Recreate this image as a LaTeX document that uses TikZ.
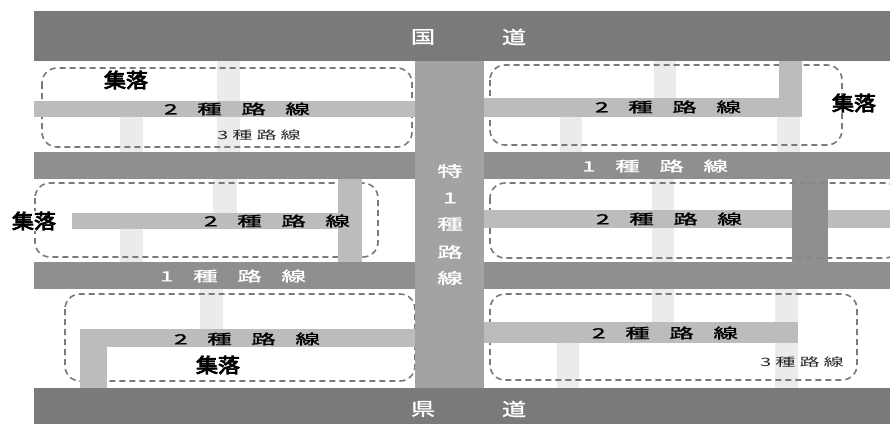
\documentclass[tikz,border=0pt]{standalone}
\usepackage{fontspec}
\newfontfamily\jp{Noto Sans CJK JP}
\newfontfamily\jpm[FakeBold=1.2]{Noto Sans CJK JP}
\newfontfamily\jpb[FakeBold=4]{Noto Sans CJK JP}
\definecolor{natroad}{HTML}{7A7A7A}
\definecolor{roadone}{HTML}{8F8F8F}
\definecolor{roadsp}{HTML}{A3A3A3}
\definecolor{roadtwo}{HTML}{BCBCBC}
\definecolor{roadthree}{HTML}{EBEBEB}
\definecolor{dashc}{HTML}{7A7A7A}
\newcommand\lblfont[2]{\scalebox{#1}[1]{#2}}
\newcommand\twoline{\lblfont{1.75}{\jpm\fontsize{14}{14}\selectfont 2\hspace{0.8em}種\hspace{0.8em}路\hspace{0.8em}線}}
\newcommand\oneline{\lblfont{1.75}{\jpm\fontsize{14}{14}\selectfont 1\hspace{0.8em}種\hspace{0.8em}路\hspace{0.8em}線}}
\newcommand\threeline{\lblfont{1.75}{\jp\fontsize{11.5}{11.5}\selectfont 3\hspace{0.2em}種\hspace{0.2em}路\hspace{0.2em}線}}
\newcommand\village{\lblfont{1.1}{\jpb\fontsize{20}{20}\selectfont 集落}}
\newcommand\natchar[1]{\lblfont{1.35}{\jpm\fontsize{18}{18}\selectfont #1}}
\newcommand\spchar[1]{\lblfont{1.7}{\jpm\fontsize{15}{15}\selectfont #1}}
\begin{document}
\begin{tikzpicture}[x=1pt,y=-1pt,
  rthree/.style={fill=roadthree},
  rtwo/.style={fill=roadtwo},
  rone/.style={fill=roadone},
  rsp/.style={fill=roadsp},
  rnat/.style={fill=natroad},
  vbox/.style={draw=dashc, line width=1.6pt, dash pattern=on 6pt off 4pt, rounded corners=15pt},
  lbl/.style={inner sep=0pt, text=black},
  wlbl/.style={inner sep=0pt, text=white},
  vlbl/.style={inner sep=1pt, text=black},
]
\useasboundingbox (0,0) rectangle (890,424);
\fill[white] (0,0) rectangle (890,424);
% 3rd class roads
\fill[rthree] (217,61) rectangle (240,152);
\fill[rthree] (120,117) rectangle (143,152);
\fill[rthree] (654,61) rectangle (676,98);
\fill[rthree] (560,117) rectangle (582,152);
\fill[rthree] (777,117) rectangle (800,152);
\fill[rthree] (213,179) rectangle (237,213);
\fill[rthree] (120,229) rectangle (143,262);
\fill[rthree] (652,179) rectangle (674,262);
\fill[rthree] (200,289) rectangle (223,329);
\fill[rthree] (652,289) rectangle (674,322);
\fill[rthree] (557,343) rectangle (579,388);
\fill[rthree] (775,289) rectangle (798,388);
% village outlines
\draw[vbox] (42,68) rectangle (412,147);
\draw[vbox] (490,65) rectangle (842,145);
\draw[vbox] (35,183) rectangle (378,257);
\draw[vbox] (490,183) rectangle (900,258);
\draw[vbox] (65,294) rectangle (415,381);
\draw[vbox] (490,294) rectangle (857,380);
% 2nd class roads
\fill[rtwo] (34,101) rectangle (415,117);
\fill[rtwo] (484,98) rectangle (802,117);
\fill[rtwo] (779,61) rectangle (802,117);
\fill[rtwo] (72,213) rectangle (362,229);
\fill[rtwo] (338,179) rectangle (362,262);
\fill[rtwo] (484,210) rectangle (890,228);
\fill[rtwo] (80,329) rectangle (415,347);
\fill[rtwo] (80,329) rectangle (107,388);
\fill[rtwo] (484,322) rectangle (798,343);
% 1st class roads
\fill[rone] (34,152) rectangle (890,179);
\fill[rone] (34,262) rectangle (890,289);
\fill[rone] (792,179) rectangle (828,262);
\begin{scope}
\clip (792,179) rectangle (828,262);
\draw[vbox, opacity=0.35] (490,183) rectangle (900,258);
\end{scope}
% special 1st class road
\fill[rsp] (415,61) rectangle (484,388);
% national / prefectural roads
\fill[rnat] (34,11) rectangle (890,61);
\fill[rnat] (34,388) rectangle (890,424);
% labels
\node[wlbl] (n1) at (423,37) {\natchar{国}};
\node[wlbl] (n2) at (514,37) {\natchar{道}};
\node[wlbl] (p1) at (423,409) {\natchar{県}};
\node[wlbl] (p2) at (514,409) {\natchar{道}};
\node[wlbl] (s1) at (450,171) {\spchar{特}};
\node[wlbl] (s2) at (450,198) {\spchar{1}};
\node[wlbl] (s3) at (450,224) {\spchar{種}};
\node[wlbl] (s4) at (450,252) {\spchar{路}};
\node[wlbl] (s5) at (450,278) {\spchar{線}};
\node[wlbl] (o1) at (655,166) {\oneline};
\node[wlbl] (o2) at (233,276) {\oneline};
\node[lbl] (t1) at (237,109) {\twoline};
\node[lbl] (t2) at (668,107) {\twoline};
\node[lbl] (t3) at (277,221) {\twoline};
\node[lbl] (t4) at (669,219) {\twoline};
\node[lbl] (t5) at (247,339) {\twoline};
\node[lbl] (t6) at (665,333) {\twoline};
\node[lbl, text=black!85] (h1) at (259,135) {\threeline};
\node[lbl, text=black!85] (h2) at (802,362) {\threeline};
\node[vlbl] (v1) at (126,80) {\village};
\node[vlbl] (v2) at (854,103) {\village};
\node[vlbl, fill=white] (v3) at (34,221) {\village};
\node[vlbl] (v4) at (218,365) {\village};
\end{tikzpicture}
\end{document}
